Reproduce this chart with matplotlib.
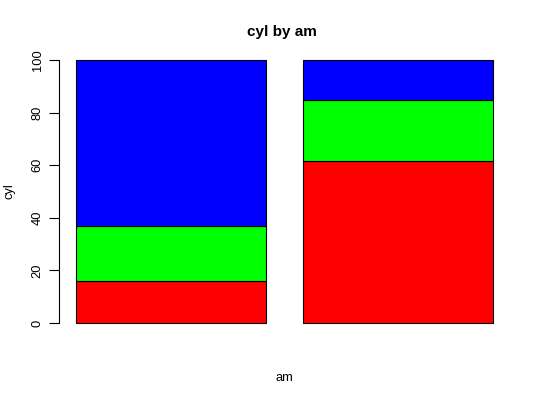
import matplotlib
matplotlib.use("Agg")
import matplotlib.pyplot as plt
import numpy as np

groups = ["0", "1"]
cyl_levels = ["4", "6", "8"]
pct_4 = [15.79, 61.54]
pct_6 = [21.05, 23.08]
pct_8 = [63.16, 15.38]
colors = ["#FF0000", "#00FF00", "#0000FF"]

plt.rcParams['font.family'] = ['Liberation Sans', 'DejaVu Sans']
fig = plt.figure(figsize=(5.4, 4.0), dpi=100)
ax = fig.add_axes([59/540, 1-333.5/400, (510-59)/540, (333.5-49.5)/400])

x = np.array([0.7, 1.9])
bottom = np.zeros(2)
for vals, c in zip([pct_4, pct_6, pct_8], colors):
    ax.bar(x, vals, width=1.0, bottom=bottom, color=c, edgecolor="black", linewidth=0.8)
    bottom += np.array(vals)

ax.set_xlim(0.112, 2.488)
ax.set_ylim(-4, 104)
for s in ["top", "right", "bottom"]:
    ax.spines[s].set_visible(False)
ax.spines["left"].set_bounds(0, 100)
ax.spines["left"].set_linewidth(0.8)
ax.set_xticks([])
ax.set_yticks([0, 20, 40, 60, 80, 100])
ax.tick_params(axis="y", length=7, width=0.8, labelsize=9.3, pad=4)
for lab in ax.get_yticklabels():
    lab.set_rotation(90)
    lab.set_va("center")

fig.text(282/540, 1-32/400, "cyl by am", ha="center", va="center", fontsize=11, fontweight="bold")
fig.text(284/540, 1-378/400, "am", ha="center", va="center", fontsize=9.3)
fig.text(10/540, 1-191/400, "cyl", ha="center", va="center", fontsize=9.3, rotation=90)

fig.savefig("out.png", dpi=100)
